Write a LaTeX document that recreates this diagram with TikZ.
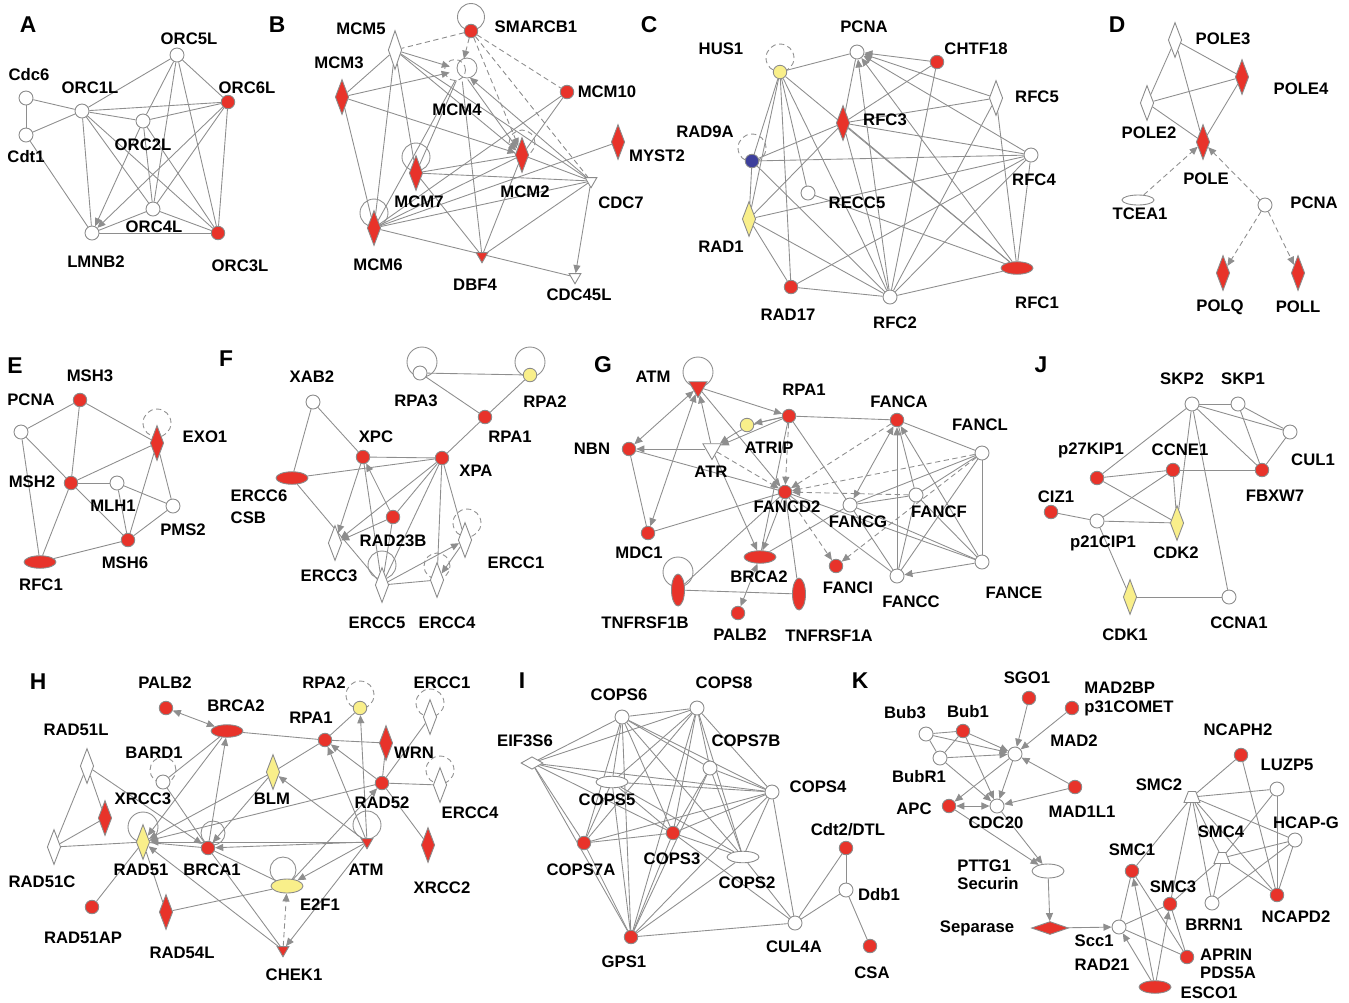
\documentclass[tikz,border=0pt]{standalone}
\usepackage{fontspec}
\setmainfont{Liberation Sans}
\usepackage{xcolor}
\usepackage{tikz}
\usetikzlibrary{shapes.geometric,arrows.meta,backgrounds}
\definecolor{genered}{HTML}{E8332A}
\definecolor{geneyellow}{HTML}{F9EF8A}
\definecolor{geneblue}{HTML}{3D3F9C}
\definecolor{linegray}{HTML}{8E8E8E}
\definecolor{rimgray}{HTML}{8A8A8A}
\tikzset{
  % --- molecule shapes ---
  gene/.style={draw=rimgray, line width=0.5pt, inner sep=0pt},
  wc/.style={gene, circle, fill=white, minimum size=0.28cm},
  rc/.style={gene, circle, fill=genered, minimum size=0.27cm},
  yc/.style={rc, fill=geneyellow},
  bc/.style={rc, fill=geneblue},
  wdia/.style={gene, diamond, fill=white, minimum width=0.27cm, minimum height=0.7cm},
  rdia/.style={wdia, fill=genered},
  ydia/.style={wdia, fill=geneyellow},
  hdia/.style={gene, diamond, fill=white, minimum width=0.44cm, minimum height=0.25cm},
  rhdia/.style={gene, diamond, fill=genered, minimum width=0.74cm, minimum height=0.26cm},
  well/.style={gene, ellipse, fill=white, minimum width=0.64cm, minimum height=0.23cm},
  rell/.style={well, fill=genered, minimum height=0.25cm},
  yell/.style={well, fill=geneyellow, minimum height=0.28cm},
  rvell/.style={gene, ellipse, fill=genered, minimum width=0.26cm, minimum height=0.64cm},
  wtri/.style={gene, regular polygon, regular polygon sides=3, shape border rotate=180,
               fill=white, minimum size=0.27cm},
  rtri/.style={wtri, fill=genered},
  wtrap/.style={gene, trapezium, fill=white, inner sep=1.5pt, trapezium stretches=true,
                trapezium left angle=60, trapezium right angle=60,
                minimum width=0.32cm, minimum height=0.22cm},
  hid/.style={circle, inner sep=0pt, minimum size=0.45cm},
  % --- texts ---
  lbl/.style={font=\bfseries\fontsize{9.5}{10.5}\selectfont, align=left, inner sep=0pt},
  panel/.style={font=\bfseries\fontsize{13}{13}\selectfont, inner sep=0pt},
  % --- connectors ---
  ed/.style={draw=linegray, line width=0.5pt},
  brk/.style={dash pattern=on 3pt off 2pt},
  arr/.style={ed, -{Triangle[length=4.6pt,width=4pt]}},
  biarr/.style={ed, {Triangle[length=4.6pt,width=4pt]}-{Triangle[length=4.6pt,width=4pt]}},
  loopc/.style={ed},
  loopd/.style={ed, brk},
}
% shape, name, position, label position, label
\newcommand{\gene}[5]{\node[#1] (#2) at (#3) {}; \node[lbl] (#2-t) at (#4) {#5};}

\begin{document}
\begin{tikzpicture}[x=0.02cm, y=-0.02cm]
  \useasboundingbox (0,0) rectangle (1349,1002);

  % --- A: origin recognition ---
  \node[panel] (pA) at (28,25) {A};
  \gene{wc}{a-orc5l}{177,55}{189,39}{ORC5L}
  \gene{wc}{a-cdc6}{26,98}{29,75}{Cdc6}
  \gene{wc}{a-orc1l}{82,111}{90,88}{ORC1L}
  \gene{rc}{a-orc6l}{228,102}{247,88}{ORC6L}
  \gene{wc}{a-orc2l}{143,121}{143,145}{ORC2L}
  \gene{wc}{a-cdt1}{26,135}{26,157}{Cdt1}
  \gene{wc}{a-orc4l}{153,209}{154,227}{ORC4L}
  \gene{wc}{a-lmnb2}{92,233}{96,262}{LMNB2}
  \gene{rc}{a-orc3l}{218,233}{240,266}{ORC3L}

  % --- B: MCM helicase ---
  \node[panel] (pB) at (277,25) {B};
  \gene{wdia, minimum height=0.78cm}{b-mcm5}{395,50}{361,29}{MCM5}
  \gene{rc}{b-smarcb1}{471,31}{536,27}{SMARCB1}
  \gene{rdia}{b-mcm3}{342,97}{339,63}{MCM3}
  \gene{hid}{b-mcm4}{461,70}{457,110}{MCM4}
  \gene{rc}{b-mcm10}{567,92}{607,92}{MCM10}
  \gene{rdia}{b-myst2}{618,142}{657,156}{MYST2}
  \gene{rdia}{b-mcm2}{522,155}{525,192}{MCM2}
  \gene{rdia}{b-mcm7}{416,173}{419,202}{MCM7}
  \gene{rdia}{b-mcm6}{374,228}{378,265}{MCM6}
  \gene{rtri}{b-dbf4}{482,256}{475,285}{DBF4}
  \gene{wtri}{b-cdc7}{591,181}{621,203}{CDC7}
  \gene{wtri}{b-cdc45l}{575,277}{579,295}{CDC45L}

  % --- C: clamp loaders ---
  \node[panel] (pC) at (649,25) {C};
  \gene{wc}{c-pcna}{857,52}{864,27}{PCNA}
  \gene{rc}{c-chtf18}{937,62}{976,49}{CHTF18}
  \gene{yc}{c-hus1}{780,72}{721,49}{HUS1}
  \gene{wdia}{c-rfc5}{996,98}{1037,97}{RFC5}
  \gene{rdia}{c-rfc3}{843,123}{885,120}{RFC3}
  \gene{bc}{c-rad9a}{752,161}{705,132}{RAD9A}
  \gene{wc}{c-rfc4}{1031,155}{1034,180}{RFC4}
  \gene{wc}{c-recc5}{808,193}{857,203}{RECC5}
  \gene{ydia}{c-rad1}{749,219}{721,247}{RAD1}
  \gene{rell}{c-rfc1}{1017,268}{1037,303}{RFC1}
  \gene{rc}{c-rad17}{791,287}{788,315}{RAD17}
  \gene{wc}{c-rfc2}{890,297}{895,323}{RFC2}

  % --- D: polymerases ---
  \node[panel] (pD) at (1117,25) {D};
  \gene{wdia}{d-pole3}{1175,40}{1223,39}{POLE3}
  \gene{rdia}{d-pole4}{1242,77}{1301,89}{POLE4}
  \gene{wdia}{d-pole2}{1147,103}{1149,133}{POLE2}
  \gene{rdia}{d-pole}{1203,142}{1206,179}{POLE}
  \gene{well, minimum height=0.2cm}{d-tcea1}{1138,200}{1140,214}{TCEA1}
  \gene{wc}{d-pcna}{1265,205}{1314,203}{PCNA}
  \gene{rdia}{d-polq}{1223,273}{1220,307}{POLQ}
  \gene{rdia}{d-poll}{1298,273}{1298,307}{POLL}

  % --- E: mismatch repair ---
  \node[panel] (pE) at (15,366) {E};
  \gene{rc}{e-msh3}{80,400}{90,376}{MSH3}
  \gene{wc}{e-pcna}{21,432}{31,400}{PCNA}
  \gene{rdia}{e-exo1}{157,443}{205,437}{EXO1}
  \gene{rc}{e-msh2}{71,483}{32,482}{MSH2}
  \gene{wc}{e-mlh1}{117,483}{113,506}{MLH1}
  \gene{wc}{e-pms2}{173,506}{183,530}{PMS2}
  \gene{rc}{e-msh6}{128,540}{125,563}{MSH6}
  \gene{rell}{e-rfc1}{40,562}{41,585}{RFC1}

  % --- F: nucleotide excision repair ---
  \node[panel] (pF) at (226,359) {F};
  \gene{wc}{f-rpa3}{420,373}{416,401}{RPA3}
  \gene{yc}{f-rpa2}{530,375}{545,402}{RPA2}
  \gene{wc}{f-xab2}{313,402}{312,377}{XAB2}
  \gene{rc}{f-rpa1}{485,417}{510,437}{RPA1}
  \gene{rc}{f-xpc}{363,457}{376,437}{XPC}
  \gene{rc}{f-xpa}{442,458}{476,471}{XPA}
  \gene{rell}{f-ercc6}{292,478}{259,507}{ERCC6\\[2pt]CSB}
  \gene{rc}{f-rad23b}{393,517}{393,541}{RAD23B}
  \gene{wdia}{f-ercc3}{335,543}{329,576}{ERCC3}
  \gene{wdia}{f-ercc5}{382,585}{377,623}{ERCC5}
  \gene{wdia}{f-ercc4}{437,580}{447,623}{ERCC4}
  \gene{wdia}{f-ercc1}{465,540}{516,563}{ERCC1}

  % --- G: Fanconi pathway ---
  \node[panel] (pG) at (603,365) {G};
  \gene{rtri, minimum size=0.42cm}{g-atm}{698,387}{653,377}{ATM}
  \gene{rc}{g-rpa1}{789,416}{804,390}{RPA1}
  \gene{yc}{g-atrip}{747,425}{769,448}{ATRIP}
  \gene{rc}{g-fanca}{897,420}{899,402}{FANCA}
  \gene{wc}{g-fancl}{982,453}{980,425}{FANCL}
  \gene{rc}{g-nbn}{629,449}{592,449}{NBN}
  \gene{wtri, minimum size=0.42cm}{g-atr}{712,449}{711,472}{ATR}
  \gene{rc}{g-fancd2}{785,492}{787,507}{FANCD2}
  \gene{wc}{g-fancf}{916,495}{939,512}{FANCF}
  \gene{wc}{g-fancg}{850,505}{858,522}{FANCG}
  \gene{rc}{g-mdc1}{648,533}{639,553}{MDC1}
  \gene{rell}{g-brca2}{760,557}{759,577}{BRCA2}
  \gene{rc}{g-fanci}{836,566}{848,588}{FANCI}
  \gene{wc}{g-fancc}{897,576}{911,602}{FANCC}
  \gene{wc}{g-fance}{982,562}{1014,593}{FANCE}
  \gene{rvell}{g-tnfrsf1b}{678,590}{645,623}{TNFRSF1B}
  \gene{rvell}{g-tnfrsf1a}{799,594}{829,636}{TNFRSF1A}
  \gene{rc}{g-palb2}{738,613}{740,635}{PALB2}

  % --- J: cell cycle ---
  \node[panel] (pJ) at (1041,365) {J};
  \gene{wc}{j-skp2}{1192,404}{1182,379}{SKP2}
  \gene{wc}{j-skp1}{1238,404}{1243,379}{SKP1}
  \gene{wc}{j-cul1}{1290,432}{1313,460}{CUL1}
  \gene{rc}{j-p27kip1}{1097,478}{1091,450}{p27KIP1}
  \gene{rc}{j-ccne1}{1173,470}{1180,450}{CCNE1}
  \gene{rc}{j-fbxw7}{1262,470}{1275,496}{FBXW7}
  \gene{rc}{j-ciz1}{1051,512}{1056,497}{CIZ1}
  \gene{wc}{j-p21cip1}{1097,521}{1103,543}{p21CIP1}
  \gene{ydia}{j-cdk2}{1177,523}{1176,553}{CDK2}
  \gene{ydia}{j-cdk1}{1130,597}{1125,635}{CDK1}
  \gene{wc}{j-ccna1}{1229,597}{1239,623}{CCNA1}

  % --- H: homologous recombination ---
  \node[panel] (pH) at (38,682) {H};
  \gene{rc}{h-palb2}{166,708}{165,683}{PALB2}
  \gene{rell}{h-brca2}{227,731}{236,706}{BRCA2}
  \gene{yc}{h-rpa2}{360,708}{324,683}{RPA2}
  \gene{wdia}{h-ercc1}{430,717}{442,683}{ERCC1}
  \gene{rc}{h-rpa1}{325,740}{311,718}{RPA1}
  \gene{rdia}{h-wrn}{386,743}{414,753}{WRN}
  \gene{wdia}{h-rad51l}{87,766}{76,730}{RAD51L}
  \gene{wc}{h-bard1}{163,782}{154,753}{BARD1}
  \gene{ydia}{h-blm}{273,772}{272,799}{BLM}
  \gene{rc}{h-rad52}{382,783}{382,803}{RAD52}
  \gene{wdia}{h-ercc4}{440,785}{470,813}{ERCC4}
  \gene{rdia}{h-xrcc3}{105,818}{143,799}{XRCC3}
  \gene{wdia}{h-rad51c}{54,847}{42,882}{RAD51C}
  \gene{ydia}{h-rad51}{143,842}{141,870}{RAD51}
  \gene{rc}{h-brca1}{208,848}{212,870}{BRCA1}
  \gene{rtri}{h-atm}{367,842}{366,870}{ATM}
  \gene{rdia}{h-xrcc2}{428,845}{442,888}{XRCC2}
  \gene{yell}{h-e2f1}{287,886}{320,905}{E2F1}
  \gene{rc}{h-rad51ap}{92,907}{83,938}{RAD51AP}
  \gene{rdia}{h-rad54l}{166,912}{182,953}{RAD54L}
  \gene{rtri}{h-chek1}{283,950}{294,975}{CHEK1}

  % --- I: COP9 signalosome ---
  \node[panel] (pI) at (522,681) {I};
  \gene{wc}{i-cops6}{622,717}{619,695}{COPS6}
  \gene{wc}{i-cops8}{697,708}{724,683}{COPS8}
  \gene{hdia}{i-eif3s6}{532,763}{525,741}{EIF3S6}
  \gene{wc}{i-cops7b}{710,768}{746,741}{COPS7B}
  \gene{well}{i-cops5}{612,782}{607,800}{COPS5}
  \gene{wc}{i-cops4}{772,792}{818,787}{COPS4}
  \gene{rc}{i-cdt2}{846,848}{848,830}{Cdt2/DTL}
  \gene{rc}{i-cops7a}{584,843}{581,870}{COPS7A}
  \gene{rc}{i-cops3}{673,833}{672,859}{COPS3}
  \gene{well}{i-cops2}{743,857}{747,883}{COPS2}
  \gene{wc}{i-ddb1}{846,890}{879,895}{Ddb1}
  \gene{wc}{i-cul4a}{795,923}{794,947}{CUL4A}
  \gene{rc}{i-gps1}{631,937}{624,962}{GPS1}
  \gene{rc}{i-csa}{870,946}{872,973}{CSA}

  % --- K: spindle checkpoint and cohesin / condensin ---
  \node[panel] (pK) at (860,681) {K};
  \gene{rc}{k-sgo1}{1029,698}{1027,678}{SGO1}
  \gene{rc}{k-mad2bp}{1072,708}{1129,699}{MAD2BP\\p31COMET}
  \gene{wc}{k-bub3}{926,734}{905,713}{Bub3}
  \gene{rc}{k-bub1}{963,731}{968,712}{Bub1}
  \gene{wc}{k-mad2}{1015,754}{1074,741}{MAD2}
  \gene{wc}{k-bubr1}{940,758}{919,777}{BubR1}
  \gene{rc}{k-mad1l1}{1075,787}{1082,812}{MAD1L1}
  \gene{rc}{k-apc}{949,806}{914,809}{APC}
  \gene{wc}{k-cdc20}{997,806}{996,823}{CDC20}
  \gene{well, minimum height=0.28cm}{k-pttg1}{1048,871}{988,875}{PTTG1\\Securin}
  \gene{rhdia}{k-separase}{1050,928}{977,928}{Separase}
  \gene{wc}{k-scc1}{1119,927}{1102,953}{Scc1\\[3pt]RAD21}
  \gene{rc}{k-smc1}{1132,871}{1132,850}{SMC1}
  \gene{rc}{k-smc3}{1170,904}{1173,887}{SMC3}
  \gene{rc}{k-aprin}{1187,957}{1228,964}{APRIN\\PDS5A}
  \gene{rell}{k-esco1}{1155,987}{1209,993}{ESCO1}
  \gene{wtrap}{k-smc2}{1192,797}{1159,785}{SMC2}
  \gene{rc}{k-ncaph2}{1241,755}{1238,730}{NCAPH2}
  \gene{wc}{k-luzp5}{1277,789}{1287,765}{LUZP5}
  \gene{wc}{k-hcapg}{1295,840}{1306,823}{HCAP-G}
  \gene{wtrap}{k-smc4}{1222,858}{1221,832}{SMC4}
  \gene{wc}{k-brrn1}{1212,903}{1214,925}{BRRN1}
  \gene{rc}{k-ncapd2}{1277,895}{1296,917}{NCAPD2}

  \begin{scope}[on background layer]
    % --- A ---
    \foreach \u/\v in {cdc6/orc1l, cdc6/cdt1, cdt1/orc1l, cdt1/lmnb2, orc1l/orc5l,
        orc1l/orc6l, orc1l/orc2l, orc1l/lmnb2, orc1l/orc4l, orc1l/orc3l, orc5l/orc6l,
        orc5l/orc2l, orc5l/orc4l, orc5l/orc3l, orc2l/orc6l, orc2l/orc4l, orc2l/orc3l,
        orc6l/orc4l, orc6l/orc3l, orc4l/lmnb2, orc4l/orc3l, lmnb2/orc3l}
      \draw[ed] (a-\u) -- (a-\v);
    \draw[arr] (a-orc2l) -- (a-lmnb2);
    \draw[arr] (a-orc6l) -- (a-lmnb2);

    % --- B ---
    \foreach \u/\v in {mcm5/mcm3, mcm5/mcm7, mcm5/mcm6, mcm3/mcm6, mcm10/mcm6,
        mcm10/mcm2, myst2/mcm6, mcm7/mcm2, mcm7/cdc7, mcm7/dbf4, mcm7/mcm4,
        mcm6/mcm4, mcm6/mcm2, mcm6/cdc7, mcm6/cdc45l, mcm4/dbf4, mcm2/cdc7,
        mcm2/dbf4, dbf4/cdc7, mcm5/cdc7}
      \draw[ed] (b-\u) -- (b-\v);
    \foreach \u/\v in {mcm5/mcm4, mcm5/mcm2, mcm3/mcm4, mcm3/mcm2, mcm4/mcm2,
        cdc7/mcm4, cdc7/cdc45l}
      \draw[arr] (b-\u) -- (b-\v);
    \draw[arr, brk] (b-smarcb1) -- (b-mcm4);
    \draw[arr, brk] (b-smarcb1) -- (b-mcm2);
    \draw[ed, brk] (b-smarcb1) -- (b-mcm5);
    \draw[ed, brk] (b-smarcb1) -- (b-mcm10);
    \draw[ed, brk] (b-smarcb1) -- (b-cdc7);
    \draw[loopc] ([yshift=0.28cm]b-smarcb1.center) circle[radius=0.27cm];
    \draw[loopd] ([yshift=0.24cm]b-mcm2.center) circle[radius=0.26cm];
    \draw[loopc] ([yshift=0.32cm]b-mcm7.center) circle[radius=0.28cm];
    \draw[loopc] ([yshift=0.30cm]b-mcm6.center) circle[radius=0.28cm];
    \draw[loopd] ([xshift=-0.12cm]b-mcm4.center) circle[radius=0.21cm];
    \draw[loopc] ([xshift=0.12cm,yshift=0.04cm]b-mcm4.center) circle[radius=0.2cm];

    % --- C ---
    \foreach \u/\v in {hus1/pcna, hus1/rad1, hus1/rad17, hus1/recc5, hus1/rfc2,
        hus1/rfc1, hus1/rad9a, rad9a/rad1, rad9a/rfc4, rad9a/rfc3, rad9a/rfc2,
        rad1/rfc3, rad1/rfc4, rad1/rad17, rad1/rfc2, pcna/rfc3, chtf18/rfc3,
        chtf18/rfc2, rfc5/rfc3, rfc5/rfc2, rfc5/rfc1, rfc3/rfc4, rfc3/rfc2,
        rfc3/rfc1, rfc4/rfc2, rfc4/rfc1, rfc4/rad17, recc5/rfc1, rfc2/rfc1, rfc2/rad17}
      \draw[ed] (c-\u) -- (c-\v);
    \foreach \u in {chtf18, rfc5, rfc4, rfc1, rfc2}
      \draw[arr] (c-\u) -- (c-pcna);
    \draw[loopd] ([yshift=0.28cm]c-hus1.center) circle[radius=0.28cm];
    \draw[loopd] ([yshift=0.26cm]c-rad9a.center) circle[radius=0.28cm];

    % --- D ---
    \foreach \u/\v in {pole3/pole4, pole3/pole2, pole3/pole, pole2/pole4,
        pole2/pole, pole4/pole}
      \draw[ed] (d-\u) -- (d-\v);
    \draw[arr, brk] (d-tcea1) -- (d-pole);
    \draw[arr, brk] (d-pcna) -- (d-pole);
    \draw[arr, brk] (d-pcna) -- (d-polq);
    \draw[arr, brk] (d-pcna) -- (d-poll);

    % --- E ---
    \foreach \u/\v in {pcna/msh3, pcna/msh2, pcna/rfc1, msh3/msh2, msh3/exo1,
        msh2/exo1, msh2/mlh1, msh2/msh6, msh2/rfc1, mlh1/pms2, mlh1/msh6,
        exo1/msh6, exo1/pms2, pms2/msh6, rfc1/msh6}
      \draw[ed] (e-\u) -- (e-\v);
    \draw[loopd] ([yshift=0.4cm]e-exo1.center) circle[radius=0.28cm];

    % --- F ---
    \foreach \u/\v in {rpa3/rpa2, rpa3/rpa1, rpa2/rpa1, rpa1/xpa, xab2/ercc6,
        xab2/xpc, xpc/xpa, xpc/ercc5, ercc6/xpa, ercc6/ercc5, xpa/rad23b,
        xpa/ercc5, xpa/ercc4, xpa/ercc1, ercc5/ercc4, rad23b/ercc5}
      \draw[ed] (f-\u) -- (f-\v);
    \foreach \u/\v in {xpc/ercc3, rad23b/xpc, xpa/ercc3, rad23b/ercc3,
        ercc5/ercc1, ercc1/ercc4}
      \draw[arr] (f-\u) -- (f-\v);
    \draw[loopc] ([xshift=0.04cm,yshift=0.22cm]f-rpa3.center) circle[radius=0.3cm];
    \draw[loopc] ([yshift=0.26cm]f-rpa2.center) circle[radius=0.3cm];
    \draw[loopc] ([yshift=0.4cm]f-ercc5.center) circle[radius=0.28cm];
    \draw[loopd] ([yshift=0.28cm]f-ercc4.center) circle[radius=0.26cm];
    \draw[loopd] ([xshift=0.04cm,yshift=0.34cm]f-ercc1.center) circle[radius=0.28cm];

    % --- G ---
    \foreach \u/\v in {rpa1/fanca, rpa1/fancg, rpa1/brca2, nbn/fancd2, nbn/mdc1,
        mdc1/fancd2, fancd2/tnfrsf1a, fancd2/tnfrsf1b, fancd2/fancc, fanca/fancf,
        fanca/fancl, fancl/fancg, fancl/fancf, fancl/fancc, fancl/fance,
        fance/fancg, fance/fancf, fance/fancd2, fancg/brca2, fancg/fancf,
        fancg/fancc, fancf/fancc, tnfrsf1b/tnfrsf1a}
      \draw[ed] (g-\u) -- (g-\v);
    \foreach \u/\v in {atm/rpa1, atm/fancd2, atr/atm, atr/nbn, atr/brca2,
        rpa1/atrip, rpa1/atr, fancd2/brca2, fancc/fanca, fance/fanca, fance/fancc}
      \draw[arr] (g-\u) -- (g-\v);
    \draw[arr] (g-rpa1) to[bend right=12] (g-atr);
    \foreach \u/\v in {atm/nbn, atm/mdc1, fanca/fancg, brca2/palb2}
      \draw[biarr] (g-\u) -- (g-\v);
    \foreach \u/\v in {atr/fancd2, rpa1/fancd2, fancd2/fanci, fanca/fancd2,
        fancl/fancd2, fancl/fanci, fancf/fancd2}
      \draw[arr, brk] (g-\u) -- (g-\v);
    \draw[loopc] ([yshift=0.3cm]g-atm.center) circle[radius=0.3cm];
    \draw[loopc] ([yshift=0.36cm]g-tnfrsf1b.center) circle[radius=0.3cm];

    % --- J ---
    \foreach \u/\v in {skp2/skp1, skp2/cul1, skp2/fbxw7, skp2/p27kip1, skp2/cdk2,
        skp2/ccna1, skp1/cul1, skp1/fbxw7, cul1/fbxw7, p27kip1/ccne1, p27kip1/cdk2,
        ccne1/fbxw7, ccne1/p21cip1, ccne1/cdk2, ciz1/p21cip1, p21cip1/cdk2,
        p21cip1/cdk1, cdk1/ccna1}
      \draw[ed] (j-\u) -- (j-\v);

    % --- H ---
    \foreach \u/\v in {brca2/rpa1, brca2/bard1, rpa1/rpa2, rpa1/wrn, rpa1/blm,
        rad52/wrn, rad52/ercc4, rad52/ercc1, rad52/xrcc2, e2f1/rad54l, brca1/e2f1,
        bard1/brca1, rad51l/rad51c, rad51l/xrcc3, rad51c/xrcc3, rad51c/rad51,
        rad51/rad51ap, rad51/rad54l, chek1/brca1, brca1/rad51}
      \draw[ed] (h-\u) -- (h-\v);
    \foreach \u/\v in {brca2/rad51, brca1/brca2, rad52/rpa1, atm/rpa1, atm/rpa2,
        rad52/rad51, atm/blm, atm/rad51, atm/brca1, atm/e2f1, atm/chek1,
        e2f1/rad52, chek1/rad51, blm/rad51, blm/brca1, rad51l/brca1}
      \draw[arr] (h-\u) -- (h-\v);
    \draw[biarr] (h-palb2) -- (h-brca2);
    \draw[arr, brk] (h-chek1) -- (h-e2f1);
    \draw[loopd] ([yshift=0.26cm]h-rpa2.center) circle[radius=0.28cm];
    \draw[loopd] ([yshift=0.28cm]h-ercc1.center) circle[radius=0.28cm];
    \draw[loopd] ([yshift=0.24cm]h-bard1.center) circle[radius=0.26cm];
    \draw[loopd] ([yshift=0.30cm]h-ercc4.center) circle[radius=0.28cm];
    \draw[loopc] ([yshift=0.30cm]h-rad51.center) circle[radius=0.3cm];
    \draw[loopc] ([xshift=0.1cm,yshift=0.3cm]h-brca1.center) circle[radius=0.24cm];
    \draw[loopc] ([yshift=0.34cm]h-atm.center) circle[radius=0.28cm];
    \draw[loopc] ([xshift=-0.08cm,yshift=0.32cm]h-e2f1.center) circle[radius=0.26cm];

    % --- I ---
    \foreach \u/\v in {cops6/cops8, cops6/eif3s6, cops6/cops5, cops6/cops7a,
        cops6/cops3, cops6/cops7b, cops6/cops4, cops6/gps1, cops6/cops2,
        cops8/eif3s6, cops8/cops5, cops8/cops7a, cops8/cops3, cops8/gps1,
        cops8/cops7b, cops8/cops4, cops8/cops2, eif3s6/cops5, eif3s6/cops4,
        eif3s6/cops3, eif3s6/gps1, eif3s6/cops7a, cops5/cops4, cops5/cops7a,
        cops5/cops3, cops5/gps1, cops5/cops2, cops7b/cops4, cops7b/cops3,
        cops7b/gps1, cops7b/cops2, cops4/cops7a, cops4/cops3, cops4/gps1,
        cops4/cops2, cops4/cul4a, cops7a/cops3, cops7a/gps1, cops3/gps1,
        cops3/cops2, cops3/cul4a, cops2/gps1, cops2/cul4a, gps1/cul4a,
        cul4a/cdt2, cul4a/ddb1, cdt2/ddb1, ddb1/csa}
      \draw[ed] (i-\u) -- (i-\v);

    % --- K ---
    \foreach \u/\v in {bub3/bub1, bub3/bubr1, bub1/bubr1, scc1/smc1, scc1/smc3,
        scc1/aprin, smc1/aprin, smc1/smc2, smc3/aprin, smc3/smc4, smc2/ncaph2,
        smc2/luzp5, smc2/hcapg, smc2/smc4, smc2/brrn1, smc2/ncapd2, smc2/smc3,
        smc4/luzp5, smc4/hcapg, smc4/brrn1, smc4/ncapd2, ncaph2/ncapd2,
        luzp5/ncapd2, hcapg/brrn1, hcapg/ncapd2}
      \draw[ed] (k-\u) -- (k-\v);
    \foreach \u/\v in {bub3/mad2, bub1/mad2, bub1/cdc20, bubr1/mad2, bubr1/cdc20,
        sgo1/mad2, mad2bp/mad2, mad1l1/mad2, mad1l1/cdc20, mad2/apc, mad2/cdc20,
        apc/pttg1, cdc20/pttg1, pttg1/separase, separase/scc1, esco1/scc1,
        esco1/smc1, esco1/smc3}
      \draw[arr] (k-\u) -- (k-\v);
    \draw[biarr] (k-apc) -- (k-cdc20);
  \end{scope}
\end{tikzpicture}
\end{document}
